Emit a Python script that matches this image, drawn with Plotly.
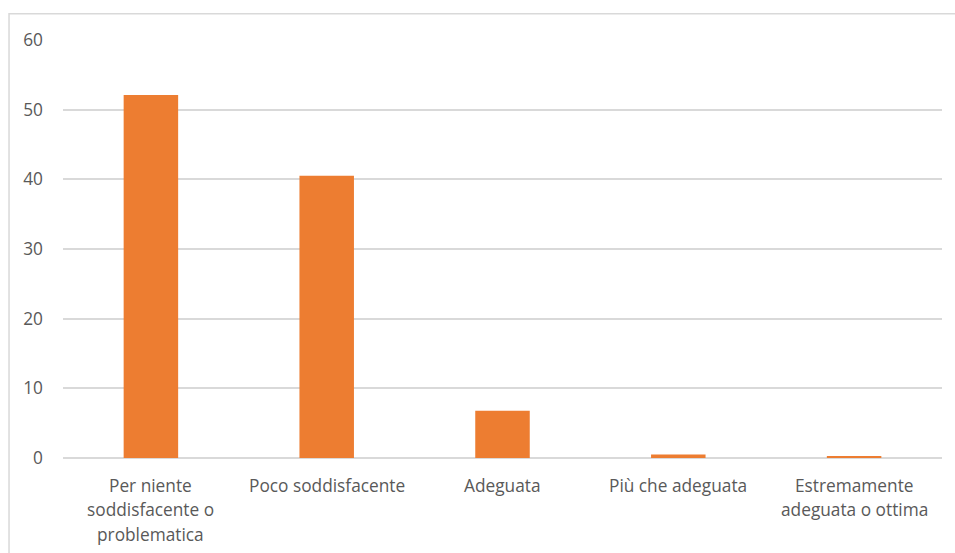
import plotly.graph_objects as go

# Survey responses (percent) by rating category
categories = [
    "Per niente soddisfacente o problematica",
    "Poco soddisfacente",
    "Adeguata",
    "Più che adeguata",
    "Estremamente adeguata o ottima",
]
label_lines = [
    ["Per niente", "soddisfacente o", "problematica"],
    ["Poco soddisfacente"],
    ["Adeguata"],
    ["Più che adeguata"],
    ["Estremamente", "adeguata o ottima"],
]
values = [52.1, 40.5, 6.8, 0.5, 0.3]
y_ticks = [0, 10, 20, 30, 40, 50, 60]

ORANGE = "#ED7D31"
GRID = "#D9D9D9"
TEXT = "#595959"
FONT = "Open Sans, Noto Sans, sans-serif"
FONT_SIZE = 17.3

fig = go.Figure(
    go.Bar(
        x=categories,
        y=values,
        marker=dict(color=ORANGE, line=dict(width=0)),
        hoverinfo="x+y",
    )
)

# Multi-line category labels, one annotation per line for wider line spacing
annotations = []
for cat, lines in zip(categories, label_lines):
    for i, line in enumerate(lines):
        annotations.append(
            dict(
                x=cat,
                xref="x",
                y=0,
                yref="paper",
                yanchor="middle",
                yshift=-27 - 24.5 * i,
                text=line,
                showarrow=False,
                font=dict(family=FONT, size=FONT_SIZE, color=TEXT),
            )
        )

fig.update_layout(
    width=955,
    height=553,
    margin=dict(l=63, r=13, t=40, b=95),
    paper_bgcolor="white",
    plot_bgcolor="white",
    bargap=0.69,
    showlegend=False,
    font=dict(family=FONT, size=FONT_SIZE, color=TEXT),
    annotations=annotations,
    shapes=[
        # chart frame (top and left edges visible)
        dict(
            type="rect",
            xref="paper",
            yref="paper",
            x0=-0.0614,
            x1=1.2,
            y0=-0.5,
            y1=1.0627,
            line=dict(color=GRID, width=1.5),
            fillcolor="rgba(0,0,0,0)",
            layer="below",
        )
    ],
)
fig.update_xaxes(
    showticklabels=False,
    showgrid=False,
    showline=False,
    zeroline=False,
    ticks="",
)
fig.update_yaxes(
    range=[0, 60],
    tickvals=y_ticks,
    ticktext=[str(v) for v in y_ticks],
    showgrid=True,
    gridcolor=GRID,
    gridwidth=1.5,
    zeroline=True,
    zerolinecolor=GRID,
    zerolinewidth=1.5,
    showline=False,
    ticks="",
    ticklabelstandoff=19,
    tickfont=dict(family=FONT, size=FONT_SIZE, color=TEXT),
)

fig.write_html("out.html")
